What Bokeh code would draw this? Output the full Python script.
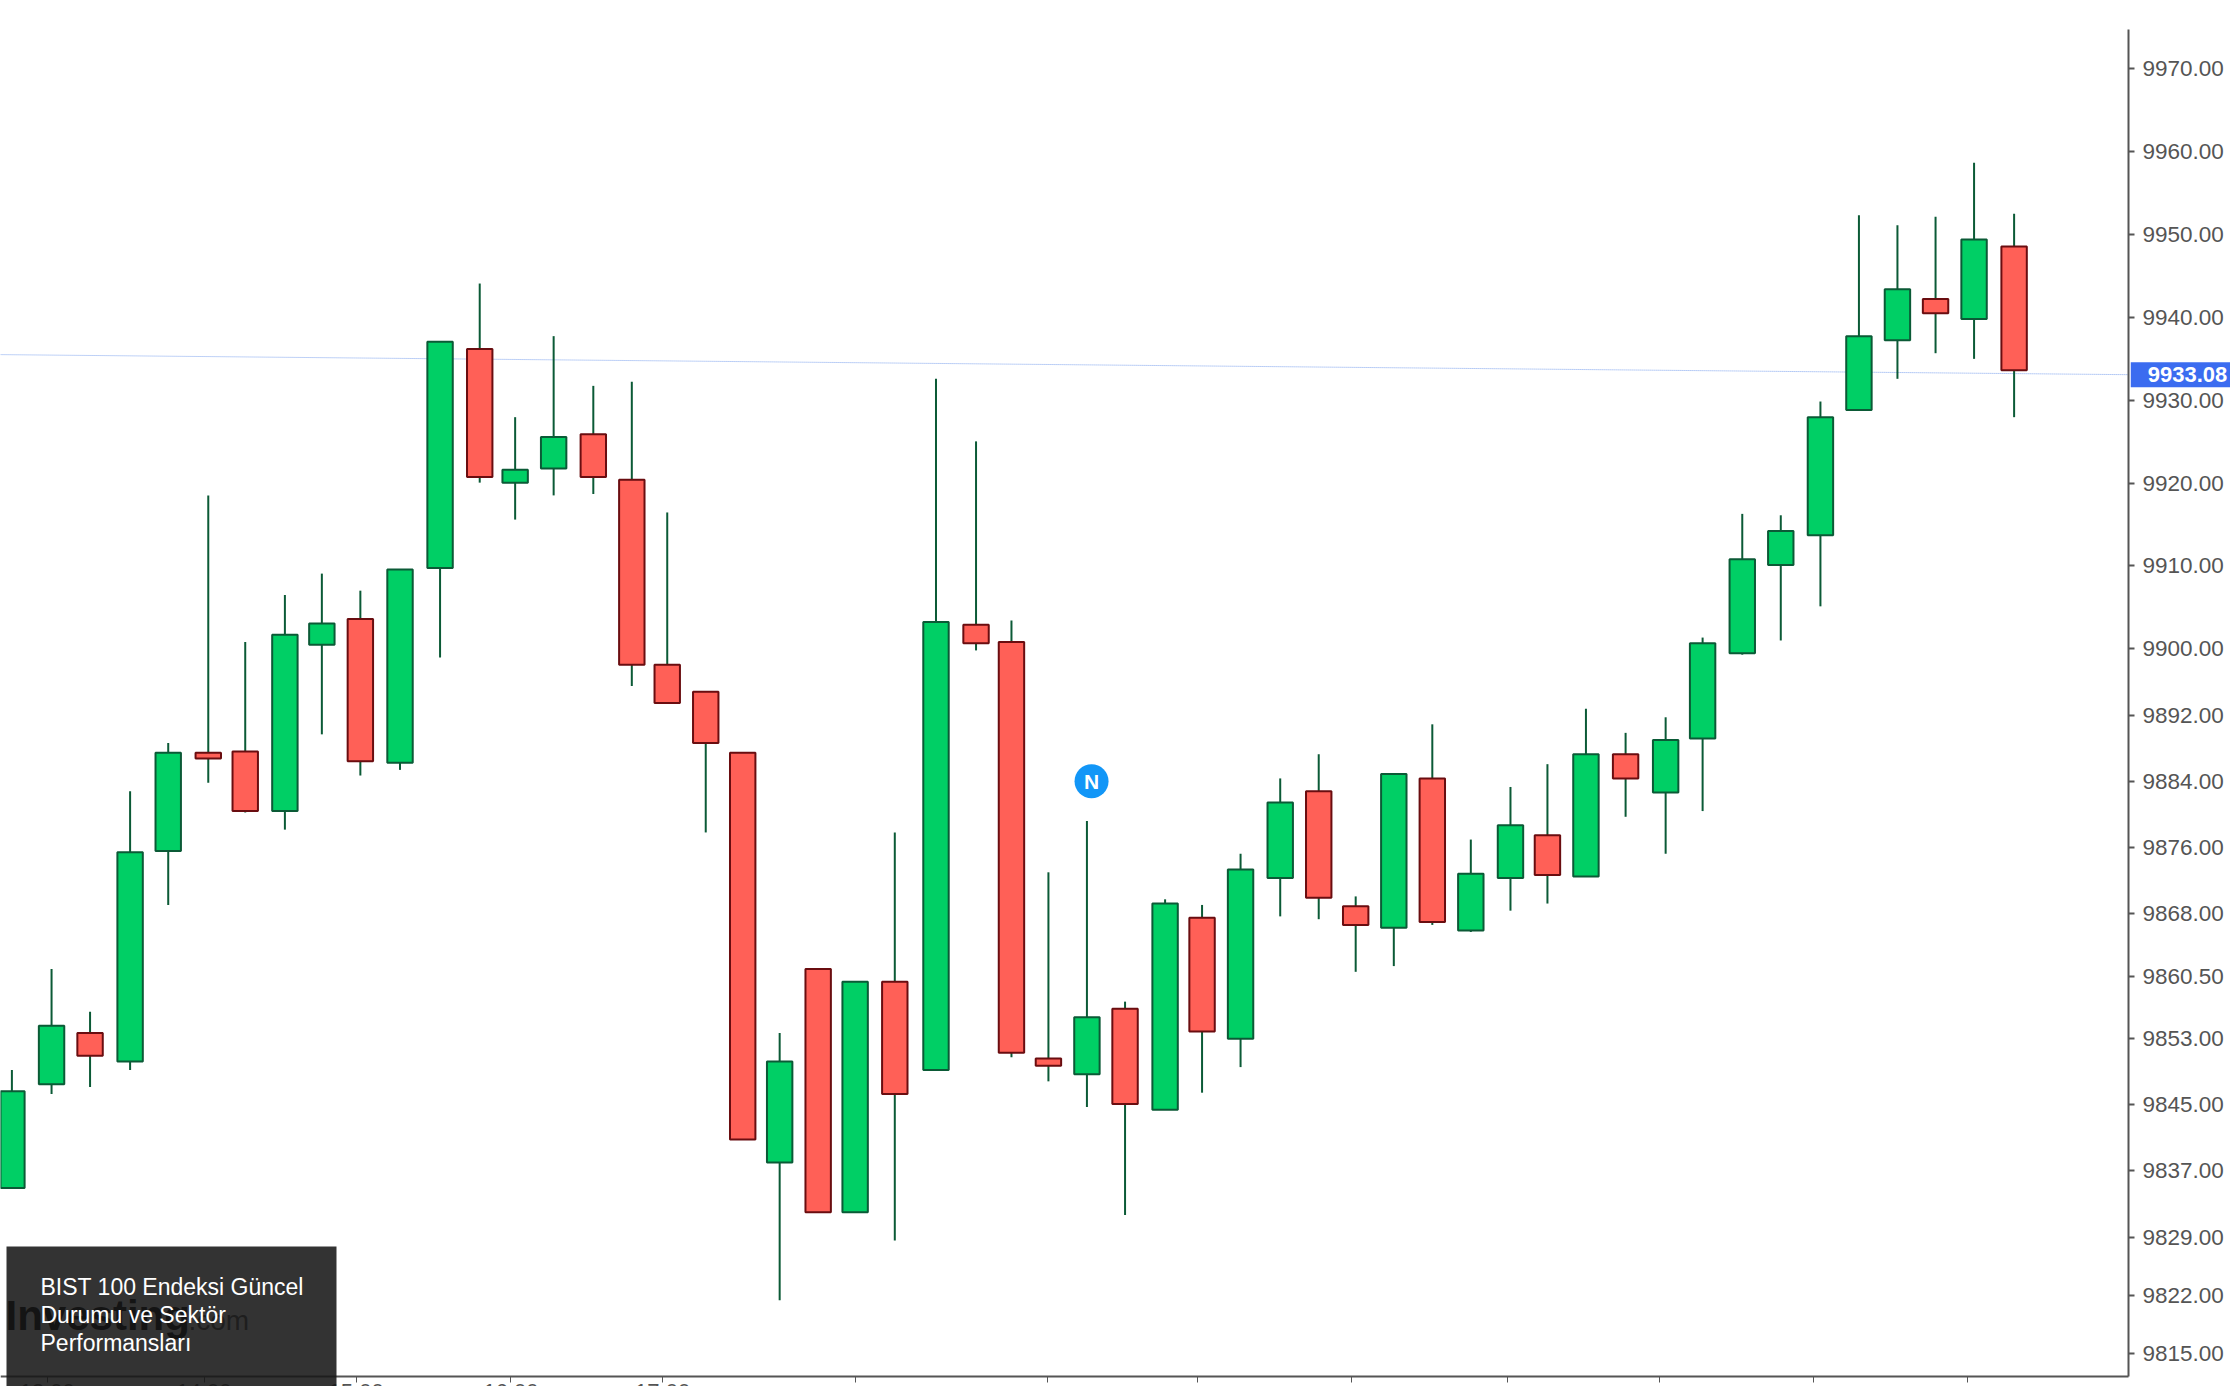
from bokeh.core.properties import value
from bokeh.embed import file_html
from bokeh.models import BoxAnnotation, FixedTicker, Label, NumeralTickFormatter, Range1d
from bokeh.plotting import figure
from bokeh.resources import INLINE

# candles, x is in bar numbers
candle_x = [0, 1.03, 2.03, 3.07, 4.06, 5.10, 6.06, 7.09, 8.05, 9.05, 10.08, 11.12, 12.15, 13.07,
            14.07, 15.10, 16.10, 17.02, 18.02, 18.98, 19.94, 20.94, 21.90, 22.93, 24.00, 25.04,
            25.96, 26.92, 27.92, 28.91, 29.95, 30.91, 31.91, 32.94, 33.94, 34.90, 35.89, 36.89,
            37.89, 38.92, 39.88, 40.88, 41.91, 42.95, 43.91, 44.94, 45.94, 46.97, 47.97, 48.97,
            49.96, 50.96, 52]
opens = [9834.92, 9847.45, 9853.63, 9850.20, 9875.60, 9887.44, 9887.61, 9880.41, 9900.49,
         9903.58, 9886.24, 9909.76, 9936.19, 9920.05, 9921.77, 9925.89, 9920.40, 9898.08,
         9894.82, 9887.44, 9838.01, 9861.35, 9832.00, 9859.81, 9849.17, 9902.89, 9900.83,
         9850.54, 9848.65, 9856.55, 9844.36, 9867.53, 9852.94, 9872.34, 9882.81, 9868.91,
         9866.33, 9884.35, 9865.99, 9872.34, 9877.49, 9872.51, 9887.27, 9882.64, 9889.16,
         9899.46, 9910.10, 9913.70, 9928.81, 9937.22, 9942.20, 9939.79, 9948.55]
closes = [9846.59, 9854.49, 9850.88, 9875.43, 9887.44, 9886.76, 9880.41, 9901.69, 9903.06,
          9886.41, 9909.58, 9937.05, 9920.74, 9921.60, 9925.55, 9920.74, 9898.08, 9893.45,
          9888.64, 9840.76, 9850.20, 9832.00, 9859.81, 9846.25, 9903.23, 9900.66, 9851.23,
          9849.68, 9855.52, 9845.05, 9869.25, 9853.80, 9873.37, 9881.44, 9869.94, 9866.67,
          9884.87, 9867.02, 9872.85, 9878.69, 9872.68, 9887.27, 9884.35, 9888.99, 9900.66,
          9910.79, 9914.22, 9927.95, 9937.73, 9943.40, 9940.48, 9949.40, 9933.61]
highs = [9849.17, 9861.35, 9856.20, 9882.81, 9888.64, 9918.51, 9900.83, 9906.49, 9909.07,
         9907.01, 9909.58, 9937.05, 9944.08, 9927.95, 9937.73, 9931.73, 9932.24, 9916.45,
         9894.82, 9887.44, 9853.63, 9861.35, 9859.81, 9877.83, 9932.58, 9925.03, 9903.40,
         9873.02, 9879.20, 9857.41, 9869.76, 9869.08, 9875.26, 9884.35, 9887.27, 9870.11,
         9884.87, 9890.88, 9876.97, 9883.32, 9886.07, 9892.76, 9889.85, 9891.73, 9901.35,
         9916.28, 9916.11, 9929.84, 9952.32, 9951.12, 9952.15, 9958.67, 9952.49]
lows = [9834.92, 9846.25, 9847.11, 9849.17, 9869.08, 9883.84, 9880.23, 9878.17, 9889.67,
        9884.70, 9885.38, 9898.94, 9920.05, 9915.59, 9918.51, 9918.68, 9895.51, 9893.45,
        9877.83, 9840.76, 9821.36, 9832.00, 9832.00, 9828.57, 9849.17, 9899.80, 9850.71,
        9847.79, 9844.70, 9831.66, 9844.36, 9846.42, 9849.51, 9867.70, 9867.36, 9861.01,
        9861.70, 9866.67, 9865.82, 9868.39, 9869.25, 9872.51, 9879.72, 9875.26, 9880.41,
        9899.29, 9901.00, 9905.12, 9928.81, 9932.58, 9935.67, 9934.99, 9927.95]

price_ticks = [9815, 9822, 9829, 9837, 9845, 9853, 9860.5, 9868, 9876, 9884, 9892, 9900,
               9910, 9920, 9930, 9940, 9950, 9960, 9970]
time_ticks = [0.92, 4.99, 8.94, 12.96, 16.9, 21.9, 26.9, 30.8, 34.8, 38.85, 42.8, 46.8, 50.8]
time_labels = ["13:00", "14:00", "15:00", "16:00", "17:00"]

last_price = 9933.08
price_line_x = [-0.296, 54.97]
price_line_y = [9935.5, last_price]
news_x = [28.04]
news_y = [9884.0]
news_text = ["N"]
panel_lines = ["BIST 100 Endeksi Güncel", "Durumu ve Sektör", "Performansları"]

GREEN = "#00CF65"
RED = "#FF6057"
FONT = "Liberation Sans"
AXIS_COLOR = "#555555"

tops = [max(o, c) for o, c in zip(opens, closes)]
bottoms = [min(o, c) for o, c in zip(opens, closes)]
fills = [GREEN if c >= o else RED for o, c in zip(opens, closes)]
borders = ["#0B5A36" if c >= o else "#6A0D10" for o, c in zip(opens, closes)]

# the frame fills the page, the axes sit inside it at a fixed location so that
# the price tag and the panel can go over them
p = figure(width=2230, height=1386, output_backend="svg", toolbar_location=None,
           y_axis_location="right", x_range=Range1d(-0.296, 57.62),
           y_range=Range1d(9810.96, 9978.24), min_border=0)
p.outline_line_color = None
p.grid.visible = False

p.yaxis.fixed_location = 54.97
p.yaxis.ticker = FixedTicker(ticks=price_ticks)
p.yaxis.formatter = NumeralTickFormatter(format="0.00")
p.yaxis.bounds = (9812.16, 9974.8)
p.yaxis.axis_line_color = AXIS_COLOR
p.yaxis.axis_line_width = 2
p.yaxis.major_tick_line_color = AXIS_COLOR
p.yaxis.major_tick_line_width = 2
p.yaxis.major_tick_out = 6
p.yaxis.major_tick_in = 0
p.yaxis.minor_tick_line_color = None
p.yaxis.major_label_standoff = 8
p.yaxis.major_label_text_font = FONT
p.yaxis.major_label_text_font_size = "22.5px"
p.yaxis.major_label_text_color = AXIS_COLOR

p.xaxis.fixed_location = 9812.16
p.xaxis.ticker = FixedTicker(ticks=time_ticks)
p.xaxis.bounds = (-0.296, 54.97)
p.xaxis.axis_line_color = AXIS_COLOR
p.xaxis.axis_line_width = 2
p.xaxis.major_tick_line_color = AXIS_COLOR
p.xaxis.major_tick_out = 6
p.xaxis.major_tick_in = 0
p.xaxis.minor_tick_line_color = None
p.xaxis.major_label_standoff = -4
p.xaxis.major_label_text_font = FONT
p.xaxis.major_label_text_font_size = "22px"
p.xaxis.major_label_text_color = AXIS_COLOR
# only the first five ticks carry a time
p.xaxis.major_label_overrides = {t: (time_labels[i] if i < len(time_labels) else "")
                                 for i, t in enumerate(time_ticks)}

# last price line
p.line(price_line_x, price_line_y, line_color="#7EA3EE", line_width=1, line_dash="1 1")

# candles
p.segment(candle_x, lows, candle_x, highs, line_color="#0B5A36", line_width=2)
p.vbar(x=candle_x, width=0.66, top=tops, bottom=bottoms, fill_color=fills, line_color=borders,
       line_width=2)

# news marker
p.scatter(news_x, news_y, size=34, marker="circle", fill_color="#1296F7", line_color=None)
p.text(news_x, news_y, text=news_text, text_color="white", text_align="center",
       text_baseline="middle", text_font=value(FONT), text_font_style="bold",
       text_font_size="21px")

# last price tag
p.add_layout(Label(x=55.03, y=last_price, text=f"{last_price:.2f}", text_color="white",
                   text_font=FONT, text_font_style="bold", text_font_size="22px",
                   text_baseline="middle", background_fill_color="#3B6CF0", padding=(17, 5)))

# logo under the dark panel
p.add_layout(Label(x=5, y=1315, x_units="canvas", y_units="canvas", text="Investing",
                   text_color="#000000", text_font=FONT, text_font_style="bold",
                   text_font_size="42px", text_baseline="alphabetic"))
p.add_layout(Label(x=188, y=1320, x_units="canvas", y_units="canvas", text=".com",
                   text_color="#555555", text_font=FONT, text_font_size="28px",
                   text_baseline="alphabetic"))
p.add_layout(BoxAnnotation(left=6, right=336, top=1246, bottom=1386, left_units="canvas",
                           right_units="canvas", top_units="canvas", bottom_units="canvas",
                           fill_color="#171717", fill_alpha=0.88, line_color=None))
for i, line in enumerate(panel_lines):
    p.add_layout(Label(x=40, y=1286 + i * 28, x_units="canvas", y_units="canvas", text=line,
                       text_color="white", text_font=FONT, text_font_size="23px",
                       text_baseline="alphabetic"))

open("out.html", "w").write(file_html(p, INLINE))
